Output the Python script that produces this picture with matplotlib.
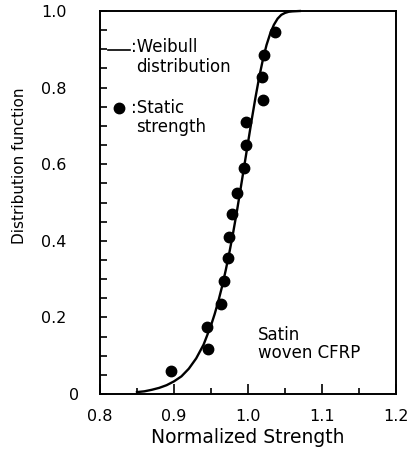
import matplotlib
matplotlib.use('Agg')
import matplotlib.pyplot as plt
from matplotlib.ticker import MultipleLocator
import matplotlib.transforms as mtransforms

plt.rcParams['font.family'] = ['DejaVu Sans']

# static strength data (normalized strength, distribution function)
strength = [0.896, 0.946, 0.945, 0.963, 0.968, 0.973, 0.974, 0.978,
            0.985, 0.994, 0.997, 0.997, 1.020, 1.019, 1.022, 1.036]
prob = [0.060, 0.117, 0.176, 0.235, 0.296, 0.354, 0.410, 0.469,
        0.526, 0.589, 0.650, 0.709, 0.767, 0.828, 0.885, 0.946]

# weibull curve
curve_x = [0.850, 0.860, 0.870, 0.880, 0.890, 0.900, 0.910, 0.920, 0.930,
           0.940, 0.950, 0.955, 0.960, 0.965, 0.970, 0.975, 0.980, 0.985,
           0.990, 0.995, 1.000, 1.005, 1.010, 1.015, 1.020, 1.025, 1.030,
           1.035, 1.040, 1.045, 1.050, 1.055, 1.060, 1.070]
curve_y = [0.005, 0.007, 0.011, 0.016, 0.023, 0.033, 0.046, 0.066, 0.093,
           0.129, 0.179, 0.209, 0.243, 0.281, 0.324, 0.371, 0.422, 0.477,
           0.536, 0.596, 0.656, 0.716, 0.773, 0.826, 0.872, 0.911, 0.941,
           0.964, 0.980, 0.990, 0.995, 0.998, 0.999, 1.000]

xticks = [0.8, 0.9, 1.0, 1.1, 1.2]
xlabels = ['0.8', '0.9', '1.0', '1.1', '1.2']
yticks = [0, 0.2, 0.4, 0.6, 0.8, 1.0]
ylabels = ['0', '0.2', '0.4', '0.6', '0.8', '1.0']

fig = plt.figure(figsize=(4.09, 4.59), dpi=100)
ax = fig.add_axes([100 / 409, 1 - 394 / 459, 296 / 409, 383 / 459])

ax.plot(curve_x, curve_y, color='black', lw=1.7, clip_on=False)
ax.plot(strength, prob, 'o', color='black', ms=7.5)

ax.set_xlim(0.8, 1.2)
ax.set_ylim(0, 1.0)
ax.set_xticks(xticks)
ax.set_xticklabels(xlabels)
ax.set_yticks(yticks)
ax.set_yticklabels(ylabels)
ax.xaxis.set_minor_locator(MultipleLocator(0.05))
ax.yaxis.set_minor_locator(MultipleLocator(0.05))
ax.tick_params(axis='both', which='both', direction='in', top=False, right=False,
               labelsize=11.5, width=1.2)
ax.tick_params(axis='x', which='major', length=7, pad=11)
ax.tick_params(axis='x', which='minor', length=4)
ax.tick_params(axis='y', which='major', length=5, pad=24)
ax.tick_params(axis='y', which='minor', length=5)
for s in ax.spines.values():
    s.set_linewidth(1.4)

# the "0" label sits further right than the others
lab0 = ax.get_yticklabels()[0]
lab0.set_transform(lab0.get_transform() +
                   mtransforms.ScaledTranslation(12 / 100, 0, fig.dpi_scale_trans))

ax.set_xlabel('Normalized Strength', fontsize=13.5, labelpad=3)
fig.text(20 / 409, 1 - 166 / 459, 'Distribution function', rotation=90,
         ha='center', va='center', fontsize=11)

# in-plot legend
ax.plot([0.811, 0.84], [0.899, 0.899], color='black', lw=1.2)
ax.text(0.842, 0.905, ':Weibull', fontsize=12, va='center', ha='left')
ax.text(0.849, 0.853, 'distribution', fontsize=12, va='center', ha='left')
ax.plot([0.825], [0.748], 'o', color='black', ms=7.5)
ax.text(0.842, 0.748, ':Static', fontsize=12, va='center', ha='left')
ax.text(0.849, 0.697, 'strength', fontsize=12, va='center', ha='left')

ax.text(1.014, 0.154, 'Satin', fontsize=12, va='center', ha='left')
ax.text(1.014, 0.107, 'woven CFRP', fontsize=12, va='center', ha='left')

fig.savefig('out.png', dpi=100)
